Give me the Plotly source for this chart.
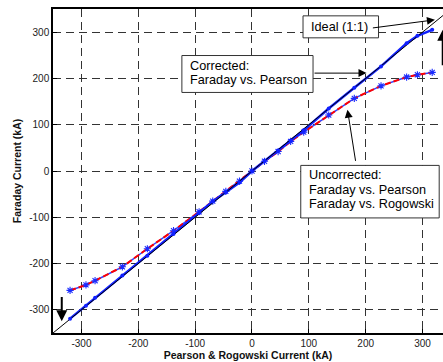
import plotly.graph_objects as go

# ---- data (kA) ----
x_pts = [-320, -292, -276, -228, -184, -138, -93, -69, -46, -22, 0, 22, 46, 68, 91, 135, 180, 227, 272, 291, 317]
corrected_y = [-319, -291, -274, -226, -183, -136, -91, -66, -46, -25, 0, 22, 44, 66, 88, 135, 180, 226, 276, 292, 305]
uncorrected_y = [-258, -246, -237, -207, -168, -129, -88, -65, -44, -22, 0, 21, 42, 64, 84, 121, 157, 184, 203, 208, 213]
ideal_x = [-350, 350]
ideal_y = [-350, 350]

tick_vals = [-300, -200, -100, 0, 100, 200, 300]
tick_text = ["-300", "-200", "-100", "0", "100", "200", "300"]

FONT = "Liberation Sans, Arial, sans-serif"

fig = go.Figure()

# uncorrected (two nearly identical series): blue under red dashed
fig.add_trace(go.Scatter(x=x_pts, y=uncorrected_y, mode="lines",
                         line=dict(color="#3040ff", width=1.5), showlegend=False))
fig.add_trace(go.Scatter(x=x_pts, y=uncorrected_y, mode="lines",
                         line=dict(color="red", width=2, dash="6px,3px"), showlegend=False))
fig.add_trace(go.Scatter(x=x_pts, y=uncorrected_y, mode="markers",
                         marker=dict(symbol="asterisk-open", size=6, color="#1a2cff",
                                     line=dict(color="#1a2cff", width=1.1)),
                         showlegend=False))
# corrected
fig.add_trace(go.Scatter(x=x_pts, y=corrected_y, mode="lines",
                         line=dict(color="#1020ff", width=2.5), showlegend=False))
# ideal 1:1
fig.add_trace(go.Scatter(x=ideal_x, y=ideal_y, mode="lines",
                         line=dict(color="black", width=1), showlegend=False))
fig.add_trace(go.Scatter(x=x_pts, y=corrected_y, mode="markers",
                         marker=dict(symbol="circle", size=4, color="#1020ff"),
                         showlegend=False))

# text boxes
boxes = [(89.8, 287.7, 222.6, 335.2), (-123.3, 169.7, 107.4, 249.5), (85.8, -101.4, 329.3, 12.1)]
for x0, y0, x1, y1 in boxes:
    fig.add_shape(type="rect", x0=x0, x1=x1, y0=y0, y1=y1, xref="x", yref="y",
                  line=dict(color="#333", width=1), fillcolor="white", layer="above")

texts = [("Ideal (1:1)", 100.4, 312.1),
         ("Corrected:", -112.7, 227.9), ("Faraday vs. Pearson", -112.7, 195.6),
         ("Uncorrected:", 96.9, -9.5), ("Faraday vs. Pearson", 96.9, -41.9),
         ("Faraday vs. Rogowski", 96.9, -70.6)]
for t, x, y in texts:
    fig.add_annotation(text=t, x=x, y=y, xref="x", yref="y", xanchor="left", yanchor="middle",
                       showarrow=False, font=dict(family=FONT, size=12.7, color="black"))

arrows = [((210, 308.7), (321.8, 326.6), 1),
          ((107.4, 211.5), (201.5, 211.5), 1),
          ((182.6, 18.6), (168, 132.3), 1),
          ((-334.6, -269), (-334.6, -324.6), 2),
          ((335.5, 225), (335.5, 305), 2)]
for (tx, ty), (hx, hy), w in arrows:
    fig.add_annotation(text="", x=hx, y=hy, ax=tx, ay=ty, xref="x", yref="y",
                       axref="x", ayref="y", showarrow=True, arrowhead=2,
                       arrowsize=1.6 if w == 1 else 1.1, arrowwidth=w, arrowcolor="black")

fig.update_layout(
    width=443, height=362,
    margin=dict(l=53, r=0, t=9, b=29),
    paper_bgcolor="white", plot_bgcolor="white",
    font=dict(family=FONT, size=10, color="#222"),
    showlegend=False,
)
fig.update_xaxes(range=[-350, 336], tickvals=tick_vals, ticktext=tick_text,
                 showgrid=True, gridcolor="#333", gridwidth=1, griddash="8px,5px",
                 zeroline=False, showline=True, linecolor="black", linewidth=1.5, mirror=True,
                 ticks="inside", ticklen=4, tickcolor="black",
                 title=dict(text="<b>Pearson & Rogowski Current (kA)</b>",
                            font=dict(family=FONT, size=10.5, color="#111"), standoff=2),
                 automargin=False)
fig.update_yaxes(range=[-350, 350], tickvals=tick_vals, ticktext=tick_text,
                 showgrid=True, gridcolor="#333", gridwidth=1, griddash="8px,5px",
                 zeroline=False, showline=True, linecolor="black", linewidth=1.5, mirror=False,
                 ticks="inside", ticklen=4, tickcolor="black",
                 title=dict(text="<b>Faraday Current (kA)</b>",
                            font=dict(family=FONT, size=10.5, color="#111"), standoff=6),
                 automargin=False)

fig.write_html("out.html", config={"displayModeBar": False},
               post_script="document.body.style.margin='0';document.body.style.overflow='hidden';")
